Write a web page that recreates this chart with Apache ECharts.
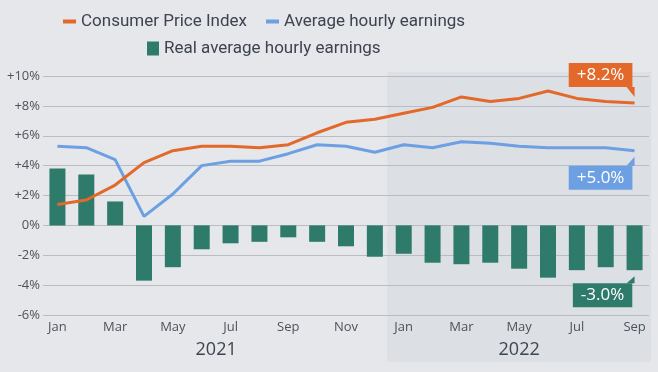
<!DOCTYPE html>
<html>
<head>
<meta charset="utf-8">
<script src="https://cdn.jsdelivr.net/npm/echarts@6/dist/echarts.min.js"></script>
<style>html,body{margin:0;padding:0;background:#e5e7ea;}#c{width:658px;height:372px;}</style>
</head>
<body>
<div id="c"></div>
<script>
const categories = ['Jan 2021','Feb 2021','Mar 2021','Apr 2021','May 2021','Jun 2021','Jul 2021','Aug 2021','Sep 2021','Oct 2021','Nov 2021','Dec 2021',
  'Jan 2022','Feb 2022','Mar 2022','Apr 2022','May 2022','Jun 2022','Jul 2022','Aug 2022','Sep 2022'];
const cpi = [1.4,1.7,2.7,4.2,5.0,5.3,5.3,5.2,5.4,6.2,6.9,7.1,7.5,7.9,8.6,8.3,8.5,9.0,8.5,8.3,8.2];
const ahe = [5.3,5.2,4.4,0.6,2.1,4.0,4.3,4.3,4.8,5.4,5.3,4.9,5.4,5.2,5.6,5.5,5.3,5.2,5.2,5.2,5.0];
const real = [3.8,3.4,1.6,-3.7,-2.8,-1.6,-1.2,-1.1,-0.8,-1.1,-1.4,-2.1,-1.9,-2.5,-2.6,-2.5,-2.9,-3.5,-3.0,-2.8,-3.0];
const yearLabels = ['2021','2022'];
const yearCenters = [5.5, 16];

const FONT = 'Open Sans';
const LFONT = 'Roboto, sans-serif';
const C_CPI = '#e2692a', C_AHE = '#6d9fe3', C_REAL = '#2e7b6b';
const fmtPct = v => (v > 0 ? '+' : '') + v.toFixed(1) + '%';
const last = categories[categories.length - 1];

function endMark(val, color, above, tailH, lblOffX) {
  return {
    symbol: above ? 'path://M0,0 L10,0 L10,10 Z' : 'path://M10,0 L10,10 L0,10 Z',
    symbolSize: [8, tailH],
    symbolKeepAspect: false,
    itemStyle: { color: color },
    silent: true,
    data: [{
      name: fmtPct(val),
      coord: [last, val],
      symbolOffset: [-4, above ? -(6 + tailH / 2) : (6 + tailH / 2)]
    }],
    label: {
      show: true,
      formatter: '{b}',
      position: above ? 'top' : 'bottom',
      distance: 0,
      offset: [lblOffX, 0],
      color: '#ffffff',
      fontFamily: FONT,
      fontSize: 17,
      lineHeight: 18,
      padding: [3, 8],
      backgroundColor: color
    }
  };
}

const chart = echarts.init(document.getElementById('c'), null, { renderer: 'canvas' });
chart.setOption({
  backgroundColor: '#e5e7ea',
  animation: false,
  textStyle: { fontFamily: FONT },
  legend: [
    {
      data: ['Consumer Price Index', 'Average hourly earnings'],
      left: 58, top: 8,
      itemWidth: 13, itemHeight: 4, itemGap: 19,
      icon: 'rect',
      textStyle: { fontFamily: LFONT, fontSize: 17, color: '#3d4350' }
    },
    {
      data: ['Real average hourly earnings'],
      left: 142, top: 35,
      itemWidth: 12, itemHeight: 14,
      icon: 'rect',
      textStyle: { fontFamily: LFONT, fontSize: 17, color: '#3d4350' }
    }
  ],
  grid: { left: 43, right: 9, top: 76, bottom: 57, containLabel: false },
  xAxis: [
    {
      type: 'category',
      data: categories,
      boundaryGap: true,
      axisLine: { show: false },
      axisTick: { show: false },
      axisLabel: {
        interval: 1,
        margin: 6,
        color: '#4d525c',
        fontFamily: FONT,
        fontSize: 13,
        formatter: v => v.split(' ')[0]
      }
    },
    {
      type: 'value',
      min: -0.5, max: 20.5,
      position: 'bottom',
      axisLine: { show: false },
      axisTick: { show: false },
      splitLine: { show: false },
      axisLabel: {
        customValues: yearCenters,
        margin: 26,
        color: '#3d4350',
        fontFamily: FONT,
        fontSize: 18,
        formatter: v => yearLabels[yearCenters.indexOf(v)]
      }
    }
  ],
  yAxis: {
    type: 'value',
    min: -6, max: 10, interval: 2,
    axisLine: { show: false },
    axisTick: { show: false },
    splitLine: { lineStyle: { color: '#b9bdc3', width: 1 } },
    axisLabel: {
      margin: 3,
      color: '#4d525c',
      fontFamily: FONT,
      fontSize: 13,
      formatter: v => (v > 0 ? '+' : '') + v + '%'
    }
  },
  series: [
    {
      name: 'Consumer Price Index',
      type: 'line',
      data: cpi,
      color: C_CPI,
      showSymbol: false,
      symbol: 'none',
      lineStyle: { width: 3, color: C_CPI },
      z: 4,
      markPoint: endMark(cpi[cpi.length - 1], C_CPI, true, 10, -30)
    },
    {
      name: 'Average hourly earnings',
      type: 'line',
      data: ahe,
      color: C_AHE,
      showSymbol: false,
      symbol: 'none',
      lineStyle: { width: 3, color: C_AHE },
      z: 3,
      markPoint: endMark(ahe[ahe.length - 1], C_AHE, false, 9, -30)
    },
    {
      name: 'Real average hourly earnings',
      type: 'bar',
      data: real,
      color: C_REAL,
      barWidth: 16,
      itemStyle: { color: C_REAL },
      z: 2,
      markPoint: endMark(real[real.length - 1], C_REAL, false, 7, -28)
    }
  ]
});

// shaded 2022 band, positioned through the axis scales
const xJan22 = chart.convertToPixel({ xAxisIndex: 0 }, 'Jan 2022');
const xDec21 = chart.convertToPixel({ xAxisIndex: 0 }, 'Dec 2021');
const xEnd = chart.convertToPixel({ xAxisIndex: 1 }, 20.5);
const yTop = chart.convertToPixel({ yAxisIndex: 0 }, 10);
const x0 = (xJan22 + xDec21) / 2 - 2;
chart.setOption({
  graphic: [{
    type: 'rect',
    z: -10,
    silent: true,
    shape: { x: x0, y: yTop - 4, width: xEnd + 2 - x0, height: 362 - (yTop - 4) },
    style: { fill: '#dcdfe3' }
  }]
});
</script>
</body>
</html>
